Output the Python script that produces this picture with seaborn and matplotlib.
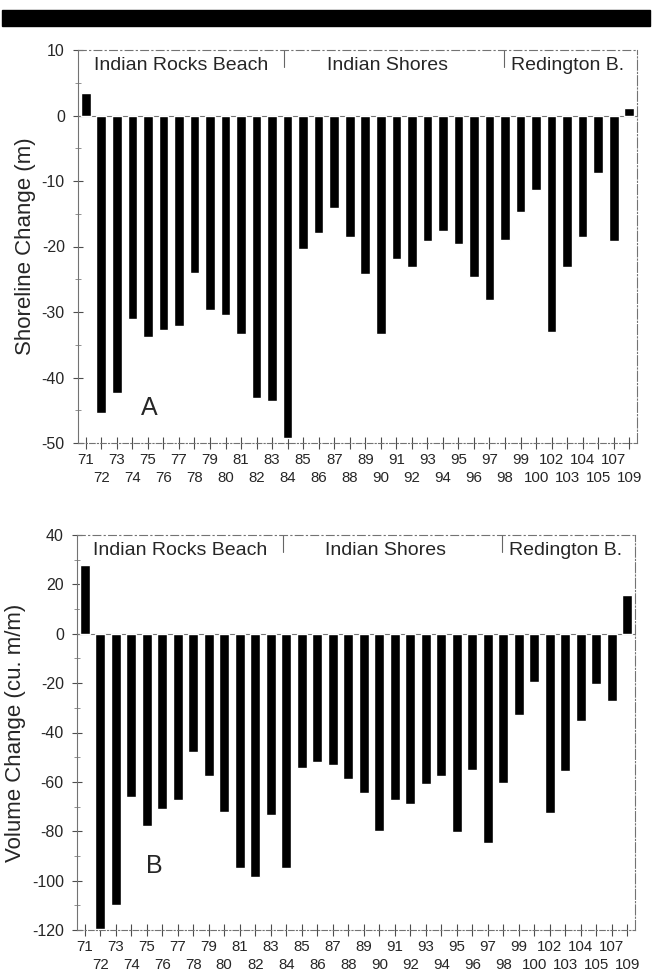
import matplotlib
matplotlib.use("Agg")
import matplotlib.pyplot as plt
from matplotlib.patches import Rectangle
from matplotlib.ticker import MultipleLocator
import pandas as pd
import seaborn as sns

# Monument (profile) numbers along the barrier island
sites = [str(n) for n in range(71, 101)] + ["102", "103", "104", "105", "107", "109"]

# Shoreline change per profile (m)
shoreline = [3.4, -45.4, -42.3, -31.1, -33.8, -32.8, -32.2, -24.0, -29.7, -30.4,
             -33.4, -43.2, -43.6, -49.2, -20.4, -17.9, -14.1, -18.5, -24.2, -33.3,
             -21.9, -23.1, -19.2, -17.7, -19.6, -24.6, -28.1, -19.0, -14.7, -11.4,
             -33.0, -23.1, -18.5, -8.8, -19.1, 1.1]

# Volume change per profile (cu. m/m)
volume = [28.0, -119.5, -110.0, -66.0, -78.0, -70.8, -67.3, -47.9, -57.5, -72.4,
          -95.0, -98.7, -73.4, -94.7, -54.3, -52.0, -53.3, -59.0, -64.5, -79.7,
          -67.2, -69.0, -61.0, -57.5, -80.3, -55.0, -84.6, -60.6, -33.0, -19.6,
          -72.7, -55.6, -35.3, -20.5, -27.2, 15.8]

regions = ["Indian Rocks Beach", "Indian Shores", "Redington B."]
panel_letters = ["A", "B"]
ylabels = ["Shoreline Change (m)", "Volume Change (cu. m/m)"]

sns.set_style("ticks")
plt.rcParams["font.family"] = ["Liberation Sans", "DejaVu Sans"]
plt.rcParams["axes.unicode_minus"] = False

df = pd.DataFrame({"site": sites, "shoreline": shoreline, "volume": volume})

W, H = 652, 973
fig = plt.figure(figsize=(W / 100, H / 100), dpi=100)

# heavy rule across the top of the page
fig.patches.append(Rectangle((2 / W, 1 - 26 / H), (W - 4) / W, 16 / H,
                             transform=fig.transFigure, color="black", zorder=5))

axA = fig.add_axes([78 / W, 1 - 443 / H, (637 - 78) / W, (443 - 50) / H])
axB = fig.add_axes([77 / W, 1 - 930 / H, (635 - 77) / W, (930 - 535) / H])

specs = [
    (axA, "shoreline", (-50, 10), 10, 5, (4.1, -44.7), -0.094),
    (axB, "volume", (-120, 40), 20, 10, (4.5, -94.0), -0.111),
]

even = list(range(0, len(sites), 2))
odd = list(range(1, len(sites), 2))

for k, (ax, col, ylim, major, minor, letter_xy, ylab_x) in enumerate(specs):
    sns.barplot(data=df, x="site", y=col, order=sites, color="black",
                width=0.62, saturation=1, ax=ax, zorder=3)
    ax.axhline(0, color="0.45", lw=0.8, zorder=2)
    ax.set_ylim(*ylim)
    ax.set_xlim(-0.5, len(sites) - 0.5)
    ax.yaxis.set_major_locator(MultipleLocator(major))
    ax.yaxis.set_minor_locator(MultipleLocator(minor))

    # two staggered rows of profile labels: upper row on major ticks,
    # lower row on minor ticks with a larger pad
    ax.set_xticks(even)
    ax.set_xticklabels([sites[i] for i in even], fontsize=10.8)
    ax.set_xticks(odd, minor=True)
    ax.set_xticklabels([sites[i] for i in odd], minor=True, fontsize=10.8)
    ax.tick_params(axis="x", which="both", direction="inout", length=9,
                   width=0.8, color="0.3")
    ax.tick_params(axis="x", which="major", pad=2.5)
    ax.tick_params(axis="x", which="minor", pad=16)
    ax.tick_params(axis="y", which="major", direction="inout", length=7,
                   width=0.8, color="0.3", labelsize=11.5, pad=6)
    ax.tick_params(axis="y", which="minor", direction="inout", length=4,
                   width=0.6, color="0.5")

    ax.set_xlabel("")
    ax.set_ylabel(ylabels[k], fontsize=16, va="center")
    ax.yaxis.set_label_coords(ylab_x, 0.5)

    for side in ["top", "right", "bottom", "left"]:
        ax.spines[side].set_visible(True)
        ax.spines[side].set_color("0.45")
        ax.spines[side].set_linewidth(0.8)
    ax.spines["top"].set_linestyle((0, (7, 3, 1, 3)))
    ax.spines["right"].set_linestyle((0, (9, 2, 1, 2)))
    ax.spines["bottom"].set_linestyle((0, (5, 2, 1, 2)))

    # community names and their dividers along the top edge
    for name, xc in zip(regions, [0.184, 0.553, 0.875]):
        ax.text(xc, 0.961, name, transform=ax.transAxes, ha="center",
                va="center", fontsize=14)
    for xs in [0.369, 0.762]:
        ax.plot([xs, xs], [1.0, 0.956], transform=ax.transAxes,
                color="0.4", lw=0.8, clip_on=False)

    ax.text(letter_xy[0], letter_xy[1], panel_letters[k], ha="center",
            va="center", fontsize=18)

fig.savefig("out.png", dpi=100, facecolor="white")
